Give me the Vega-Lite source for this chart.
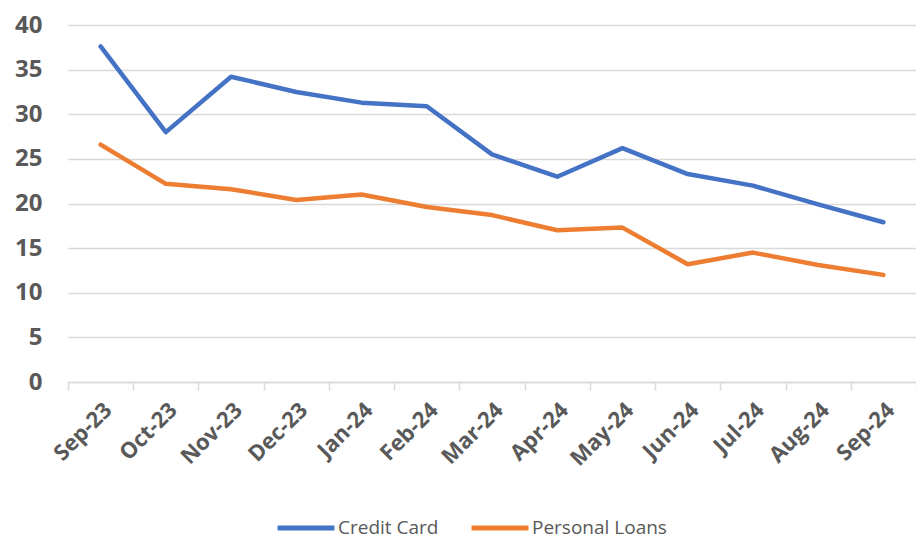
{
  "$schema": "https://vega.github.io/schema/vega-lite/v6.json",
  "autosize": "none",
  "width": 848,
  "height": 357,
  "padding": {"left": 68, "top": 25, "right": 0, "bottom": 157},
  "background": "white",
  "config": {"view": {"stroke": null}, "font": "Open Sans"},
  "data": {"values": [
    {"month": "Sep-23", "series": "Credit Card", "value": 37.6},
    {"month": "Oct-23", "series": "Credit Card", "value": 28.0},
    {"month": "Nov-23", "series": "Credit Card", "value": 34.2},
    {"month": "Dec-23", "series": "Credit Card", "value": 32.5},
    {"month": "Jan-24", "series": "Credit Card", "value": 31.3},
    {"month": "Feb-24", "series": "Credit Card", "value": 30.9},
    {"month": "Mar-24", "series": "Credit Card", "value": 25.5},
    {"month": "Apr-24", "series": "Credit Card", "value": 23.0},
    {"month": "May-24", "series": "Credit Card", "value": 26.2},
    {"month": "Jun-24", "series": "Credit Card", "value": 23.3},
    {"month": "Jul-24", "series": "Credit Card", "value": 22.0},
    {"month": "Aug-24", "series": "Credit Card", "value": 19.9},
    {"month": "Sep-24", "series": "Credit Card", "value": 17.9},
    {"month": "Sep-23", "series": "Personal Loans", "value": 26.6},
    {"month": "Oct-23", "series": "Personal Loans", "value": 22.2},
    {"month": "Nov-23", "series": "Personal Loans", "value": 21.6},
    {"month": "Dec-23", "series": "Personal Loans", "value": 20.4},
    {"month": "Jan-24", "series": "Personal Loans", "value": 21.0},
    {"month": "Feb-24", "series": "Personal Loans", "value": 19.6},
    {"month": "Mar-24", "series": "Personal Loans", "value": 18.7},
    {"month": "Apr-24", "series": "Personal Loans", "value": 17.0},
    {"month": "May-24", "series": "Personal Loans", "value": 17.3},
    {"month": "Jun-24", "series": "Personal Loans", "value": 13.2},
    {"month": "Jul-24", "series": "Personal Loans", "value": 14.5},
    {"month": "Aug-24", "series": "Personal Loans", "value": 13.1},
    {"month": "Sep-24", "series": "Personal Loans", "value": 12.0}
  ]},
  "mark": {"type": "line", "strokeWidth": 4.5, "strokeCap": "round", "strokeJoin": "round"},
  "encoding": {
    "x": {
      "field": "month", "type": "nominal", "sort": null,
      "scale": {"type": "band", "paddingInner": 0, "paddingOuter": 0},
      "axis": {
        "title": null, "labelAngle": -45, "labelFont": "Open Sans", "labelFontWeight": "bold",
        "labelFontSize": 22, "labelColor": "#595959", "labelPadding": 9,
        "domainColor": "#d9d9d9", "domainWidth": 1.5, "tickColor": "#d9d9d9", "tickWidth": 1.5,
        "tickSize": 8, "tickBand": "extent", "grid": false
      }
    },
    "y": {
      "field": "value", "type": "quantitative",
      "scale": {"domain": [0, 40]},
      "axis": {
        "title": null, "values": [0, 5, 10, 15, 20, 25, 30, 35, 40],
        "labelFont": "Open Sans", "labelFontWeight": "bold", "labelFontSize": 24,
        "labelColor": "#595959", "labelPadding": 26, "domain": false, "ticks": false,
        "grid": true, "gridColor": "#d9d9d9", "gridWidth": 1.5
      }
    },
    "color": {
      "field": "series", "type": "nominal",
      "scale": {"domain": ["Credit Card", "Personal Loans"], "range": ["#4472C4", "#ED7D31"]},
      "legend": {
        "title": null, "orient": "none", "direction": "horizontal",
        "legendX": 207, "legendY": 472,
        "symbolType": "stroke", "symbolSize": 3249, "symbolStrokeWidth": 5,
        "labelFont": "Open Sans", "labelFontSize": 19, "labelColor": "#595959",
        "labelOffset": 1, "columnPadding": 22
      }
    }
  }
}
